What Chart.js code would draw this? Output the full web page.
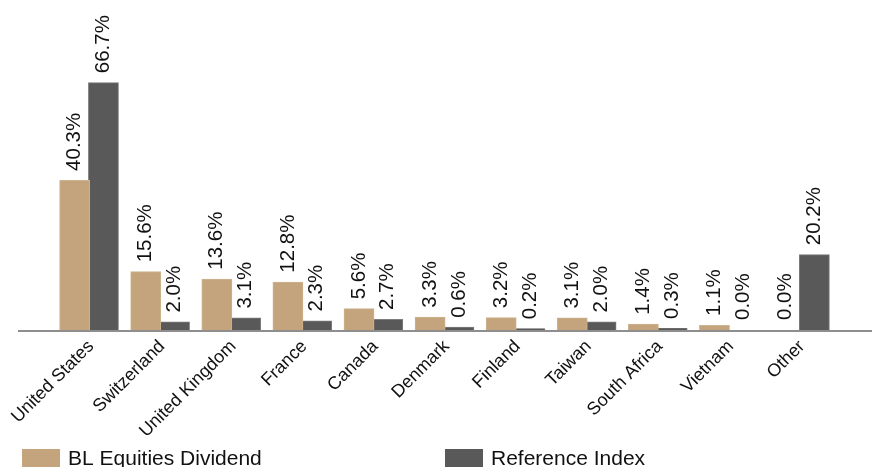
<!DOCTYPE html>
<html>
<head>
<meta charset="utf-8">
<script src="https://cdn.jsdelivr.net/npm/chart.js@4.4.1/dist/chart.umd.min.js"></script>
<style>
  html, body { margin: 0; padding: 0; background: #ffffff; }
  #wrap { width: 872px; height: 467px; }
</style>
</head>
<body>
<div id="wrap"><canvas id="chart" width="872" height="467"></canvas></div>
<script>
// Country allocation (% of portfolio) versus the reference index
const countries = ['United States', 'Switzerland', 'United Kingdom', 'France', 'Canada',
  'Denmark', 'Finland', 'Taiwan', 'South Africa', 'Vietnam', 'Other'];
const fundWeights = [40.3, 15.6, 13.6, 12.8, 5.6, 3.3, 3.2, 3.1, 1.4, 1.1, 0.0];
const indexWeights = [66.7, 2.0, 3.1, 2.3, 2.7, 0.6, 0.2, 2.0, 0.3, 0.0, 20.2];
const seriesNames = ['BL Equities Dividend', 'Reference Index'];
const seriesColors = ['#C4A47C', '#595959'];
const seriesEdges = ['#cdb38f', '#7d7d7d'];

const FONT = '"Liberation Sans", Arial, Helvetica, sans-serif';

// Vertical percentage labels above every bar
const valueLabels = {
  id: 'valueLabels',
  afterDatasetsDraw(chart) {
    const ctx = chart.ctx;
    ctx.save();
    ctx.fillStyle = '#111111';
    ctx.font = '20.5px ' + FONT;
    ctx.textAlign = 'left';
    ctx.textBaseline = 'middle';
    chart.data.datasets.forEach((ds, di) => {
      chart.getDatasetMeta(di).data.forEach((bar, i) => {
        ctx.save();
        ctx.translate(bar.x, bar.y - 10);
        ctx.rotate(-Math.PI / 2);
        ctx.fillText(ds.data[i].toFixed(1) + '%', 0, 0);
        ctx.restore();
      });
    });
    ctx.restore();
  }
};

// Grey zero line running across the full width
const zeroLine = {
  id: 'zeroLine',
  afterDatasetsDraw(chart) {
    const ctx = chart.ctx;
    const y = chart.scales.y.getPixelForValue(0);
    ctx.save();
    ctx.strokeStyle = '#8e8e8e';
    ctx.lineWidth = 2;
    ctx.beginPath();
    ctx.moveTo(18, y + 1);
    ctx.lineTo(chart.width, y + 1);
    ctx.stroke();
    ctx.restore();
  }
};

// Legend row along the bottom edge
const bottomLegend = {
  id: 'bottomLegend',
  afterDraw(chart) {
    const ctx = chart.ctx;
    const starts = [22, 445];
    ctx.save();
    ctx.font = '21px ' + FONT;
    ctx.textAlign = 'left';
    ctx.textBaseline = 'alphabetic';
    chart.data.datasets.forEach((ds, i) => {
      const x = starts[i];
      ctx.fillStyle = ds.backgroundColor;
      ctx.fillRect(x, 449, 38, 22);
      ctx.fillStyle = '#111111';
      ctx.fillText(ds.label, x + 46, 465);
    });
    ctx.restore();
  }
};

new Chart(document.getElementById('chart'), {
  type: 'bar',
  data: {
    labels: countries,
    datasets: [
      { label: seriesNames[0], data: fundWeights, backgroundColor: seriesColors[0],
        borderColor: seriesEdges[0], borderWidth: 1, borderSkipped: 'bottom', inflateAmount: 1 },
      { label: seriesNames[1], data: indexWeights, backgroundColor: seriesColors[1],
        borderColor: seriesEdges[1], borderWidth: 1, borderSkipped: 'bottom', inflateAmount: 1 }
    ]
  },
  options: {
    responsive: false,
    animation: false,
    events: [],
    categoryPercentage: 0.81,
    barPercentage: 1.0,
    layout: { padding: { left: 53.5, right: 36.5, top: 71, bottom: 0 } },
    plugins: { legend: { display: false }, tooltip: { enabled: false } },
    scales: {
      x: {
        grid: { display: false },
        border: { display: false },
        ticks: {
          color: '#111111',
          font: { family: FONT, size: 18 },
          minRotation: 45,
          maxRotation: 45,
          autoSkip: false,
          padding: -2,
          labelOffset: 2
        },
        afterFit(scale) {
          scale.height = 137;
          scale.paddingLeft = 0;
          scale.paddingRight = 0;
        }
      },
      y: { display: false, min: 0, max: 70 }
    }
  },
  plugins: [valueLabels, zeroLine, bottomLegend]
});
</script>
</body>
</html>
